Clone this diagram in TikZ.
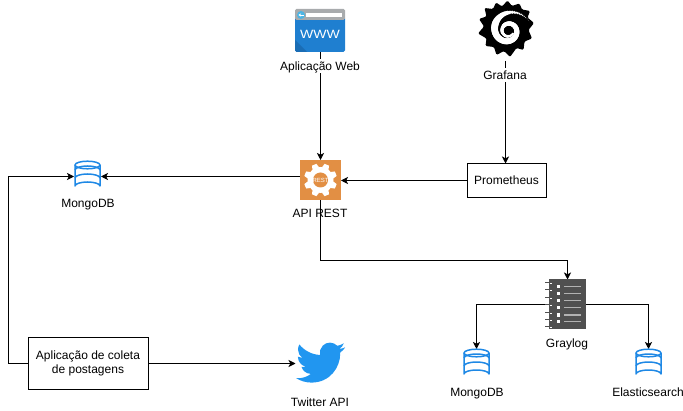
\documentclass[tikz,border=0pt]{standalone}
\usepackage{fontspec}
\setmainfont{Liberation Sans}
\usetikzlibrary{arrows.meta,svg.path,calc}
\definecolor{dbblue}{HTML}{1E88E5}
\definecolor{birdblue}{HTML}{2196F0}
\definecolor{restor}{HTML}{E28F44}
\definecolor{wwwblue}{HTML}{1F7FD0}
\definecolor{wwwdark}{HTML}{1A6DB5}
\definecolor{wwwgray}{HTML}{A8ABAD}
\definecolor{wwwcyan}{HTML}{4DB5E5}
\definecolor{logdark}{HTML}{505050}
\tikzset{
  conn/.style={draw=black,line width=0.8pt},
  arrowconn/.style={conn,-{Stealth[length=7pt,width=7pt,inset=1.8pt]}},
  txt/.style={font=\fontsize{12}{14}\selectfont,inner sep=0.5pt,text=black,text height=8.6pt,text depth=0pt},
  labelbg/.style={txt,fill=white,text depth=2.5pt,text height=11pt},
  boxnode/.style={draw=black,line width=0.8pt,fill=white,font=\fontsize{12}{14}\selectfont,align=center,inner sep=0pt,outer sep=0pt},
  iconbox/.style={inner sep=0pt,outer sep=0pt,minimum width=#1},
  dbline/.style={draw=dbblue,line width=1.5pt,fill=none,line join=round}
}
\newcommand{\dbicon}[2]{%
  \begin{scope}[shift={(#1,#2)}]
    \path[dbline] (-12.5,-11) -- (-12.5,10) arc[x radius=12.5,y radius=4,start angle=180,end angle=360] -- (12.5,-11);
    \path[dbline] (0,-11) ellipse[x radius=12.5,y radius=3.8];
    \path[dbline] (-12.5,-6) arc[x radius=12.5,y radius=4,start angle=180,end angle=360];
    \path[dbline] (-12.5,2) arc[x radius=12.5,y radius=4,start angle=180,end angle=360];
  \end{scope}}
\begin{document}
\begin{tikzpicture}[x=1pt,y=-1pt]
\useasboundingbox (0,0) rectangle (683,411);
% anchors of the icons
\node[iconbox=50pt,minimum height=43pt] (web) at (320.5,30.5) {};
\node[iconbox=56pt,minimum height=60pt] (grafana) at (505.5,31) {};
\node[iconbox=41pt,minimum height=40pt] (api) at (320.5,180) {};
\node[iconbox=27pt,minimum height=30pt] (mongoA) at (87.5,176.5) {};
\node[iconbox=37pt,minimum height=50pt] (graylog) at (567.5,304.5) {};
\node[iconbox=27pt,minimum height=30pt] (mongoB) at (476.5,364) {};
\node[iconbox=27pt,minimum height=30pt] (elastic) at (648.5,364) {};
\node[iconbox=50pt,minimum height=50pt] (twitter) at (320.5,363.5) {};
\node[boxnode,minimum width=79pt,minimum height=34pt] (prom) at (506.5,180.5) {Prometheus};
\node[boxnode,minimum width=120pt,minimum height=52pt] (coleta) at (88.5,363.5) {\hspace*{-1pt}Aplicação de coleta\\\hspace*{-1pt}de postagens};
\node[txt] (apilabel) at (320,213.5) {API REST};
% connectors
\draw[arrowconn] (web.south) -- (api.north);
\draw[arrowconn] (grafana.south) -- (grafana.south |- prom.north);
\draw[arrowconn] (prom.west) -- (prom.west -| api.east);
\draw[arrowconn] (mongoA.east -| api.west) -- (mongoA.east);
\draw[arrowconn] (coleta.west) -- ++(-20,0) |- (mongoA.west);
\draw[arrowconn] (coleta.east) -- (twitter.west);
\draw[arrowconn] (api.south) -- ++(0,60.5) -| (graylog.north);
\draw[arrowconn] (graylog.west) -| (mongoB.north);
\draw[arrowconn] (graylog.east) -| (elastic.north);
% labels
\node[labelbg] (weblabel) at (320,65.9) {Aplicação Web};
\node[labelbg] (grafanalabel) at (505,75.1) {Grafana};
\node[txt] (mongoAlabel) at (88,203) {MongoDB};
\node[txt] (graylabel) at (567,343) {Graylog};
\node[txt] (mongoBlabel) at (477,392) {MongoDB};
\node[txt] (elasticlabel) at (648,392) {Elasticsearch};
\node[txt] (twitterlabel) at (320,402) {Twitter API};
% web icon
\fill[wwwblue,rounded corners=1.5pt] (295,17) rectangle (345,52);
\fill[wwwdark] (295,40) -- (307,52) -- (296.5,52) -- (295,50.5) -- cycle;
\fill[wwwgray,rounded corners=1.5pt] (295,9) rectangle (345,20);
\fill[wwwgray] (295,15) rectangle (345,19);
\fill[wwwcyan] (301,15) circle[radius=4];
\draw[white,line width=0.8pt,-{Stealth[length=2.5pt,width=3pt]}] (303.5,15) -- (298.5,15);
\fill[white] (306,13) rectangle (342,17);
\node[inner sep=0pt,text=white,font=\fontsize{12}{12}\selectfont] (wwwtext) at (320,34.5) {\scalebox{1.17}[1]{WWW}};
% grafana icon
\fill[black,rounded corners=1.2pt] (507.5,0.5) -- (512,6) -- (519.5,3.5) -- (522,9.5) -- (530,11) -- (527.5,17.5) -- (534,23) -- (528.5,30) -- (532,38.5) -- (524.5,41.5) -- (523.5,50) -- (516.5,48) -- (510,57) -- (504,51) -- (496.5,55) -- (494,47) -- (485.5,46) -- (486.5,38.5) -- (478,33.5) -- (484,26.5) -- (479,19) -- (486.5,16.5) -- (484.5,8) -- (493,9) -- (496,2.5) -- (502,6.5) -- cycle;
\foreach \t in {22,27,...,690}{
  \pgfmathsetmacro{\rr}{4.5+18.5*exp(-(\t-22)/220)}
  \pgfmathsetmacro{\ww}{min(3.6*(\t-22)/130+0.1,3.6-2.5*(\t-150)/540)}
  \fill[white] ({508.3+\rr*cos(\t)},{30.7-\rr*sin(\t)}) circle[radius=\ww];
}
% REST icon
\fill[restor] (api.south west) rectangle (api.north east);
\begin{scope}[shift={(api.center)}]
  \fill[white] (0,0) circle[radius=13];
  \foreach \a in {0,45,...,315}{
    \fill[white,rotate=\a+22.5] (-3.6,-12) -- (-2.4,-16.5) -- (2.4,-16.5) -- (3.6,-12) -- cycle;
  }
  \fill[restor] (0,0) circle[radius=7.5];
  \node[inner sep=0pt,text=white,font=\fontsize{6}{6}\selectfont] (resttext) at (0,0) {REST};
\end{scope}
% database icons
\dbicon{87.5}{176}
\dbicon{476.5}{364}
\dbicon{648.5}{364}
% graylog icon
\fill[logdark] (549,279) rectangle (586,329);
\foreach \y in {282,289.5,297,304.5,312,319.5,326.5}{
  \draw[logdark,line width=0.8pt] (545,\y) -- (551,\y);
  \draw[white,line width=0.5pt] (549.5,\y+1) -- (552,\y+1);
}
\foreach \y in {286.7,293.7,300.7,307.7,315,321.7}{
  \fill[white] (556.5,\y-1.7) rectangle (560,\y+1.7);
  \draw[gray!60,line width=1.2pt] (564,\y) -- (581,\y);
}
% twitter icon
\begin{scope}[shift={(296,338)},xscale=2.05,yscale=-2.05]
\fill[birdblue] svg "M 23.953 4.57 c -0.9 0.4 -1.85 0.65 -2.825 0.775 c 0.95 -0.57 1.75 -1.55 2.163 -2.723 c -0.951 0.555 -2.005 0.959 -3.127 1.184 c -1.9 -2 -5.2 -2.1 -7.1 -0.1 c -1.2 1.2 -1.7 3 -1.284 4.582 C 7.69 8.095 4.067 6.13 1.64 3.162 c -0.43 0.74 -0.666 1.6 -0.666 2.475 c 0 1.71 0.87 3.213 2.188 4.096 c -0.8 -0.03 -1.55 -0.25 -2.228 -0.616 v 0.06 c 0 2.35 1.67 4.37 3.946 4.827 c -0.72 0.2 -1.48 0.22 -2.212 0.085 c 0.65 2 2.5 3.37 4.604 3.417 c -1.75 1.37 -3.9 2.1 -6.102 2.105 c -0.39 0 -0.779 -0.023 -1.17 -0.067 c 2.25 1.44 4.87 2.21 7.557 2.209 c 9.053 0 13.998 -7.496 13.998 -13.985 c 0 -0.21 0 -0.42 -0.015 -0.63 c 0.96 -0.7 1.79 -1.56 2.46 -2.548 z";
\end{scope}
\end{tikzpicture}
\end{document}
